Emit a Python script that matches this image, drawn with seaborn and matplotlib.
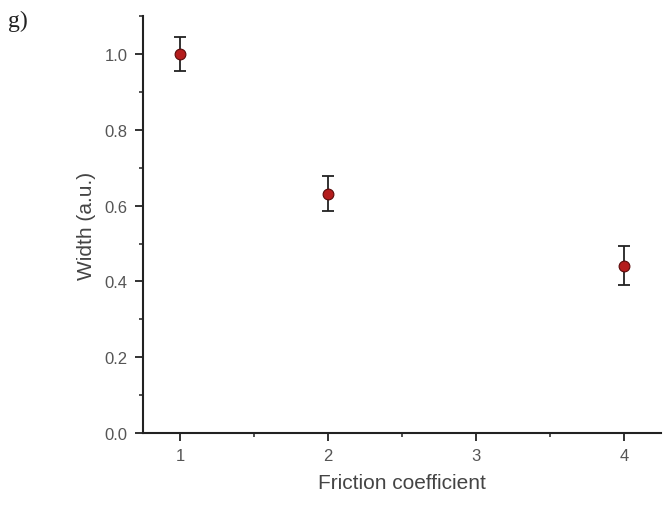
import matplotlib
matplotlib.use("Agg")
import matplotlib.pyplot as plt
import seaborn as sns
import pandas as pd
from matplotlib.ticker import MultipleLocator

friction = [1, 2, 4]
width = [1.0, 0.632, 0.442]
err = [0.045, 0.045, 0.052]

df = pd.DataFrame({"Friction coefficient": friction, "Width (a.u.)": width, "err": err})

sns.set_style("ticks")
plt.rcParams['font.family'] = ['Liberation Sans', 'DejaVu Sans']

fig = plt.figure(figsize=(6.63, 5.06), dpi=100)
ax = fig.add_axes([0.2157, 0.1423, 0.997 - 0.2157, 0.966 - 0.1423])

ax.errorbar(df["Friction coefficient"], df["Width (a.u.)"], yerr=df["err"],
            fmt="none", ecolor="#222222", elinewidth=1.3, capsize=4.5, capthick=1.3, zorder=2)
sns.scatterplot(data=df, x="Friction coefficient", y="Width (a.u.)", ax=ax,
                color="#b41c1c", edgecolor="#5a0a0a", s=60, linewidth=0.8, zorder=3)

ax.set_xlim(0.75, 4.25)
ax.set_ylim(0, 1.1)
ax.xaxis.set_major_locator(MultipleLocator(1))
ax.xaxis.set_minor_locator(MultipleLocator(0.5))
ax.yaxis.set_major_locator(MultipleLocator(0.2))
ax.yaxis.set_minor_locator(MultipleLocator(0.1))
ax.yaxis.set_major_formatter(matplotlib.ticker.FormatStrFormatter('%.1f'))

for s in ["top", "right"]:
    ax.spines[s].set_visible(False)
for s in ["left", "bottom"]:
    ax.spines[s].set_linewidth(1.5)
    ax.spines[s].set_color("#222222")

ax.tick_params(which="major", direction="out", length=6, width=1.3, color="#222222",
               labelsize=12, labelcolor="#555555", pad=5)
ax.tick_params(which="minor", direction="out", length=3, width=1.1, color="#222222")

ax.set_xlabel("Friction coefficient", fontsize=15, color="#444444", labelpad=7)
ax.set_ylabel("Width (a.u.)", fontsize=15, color="#444444", labelpad=6)

fig.text(0.012, 0.978, "g)", fontsize=17, family=['Liberation Serif'], va="top", ha="left", color="#222222")

fig.savefig("out.png", dpi=100)
